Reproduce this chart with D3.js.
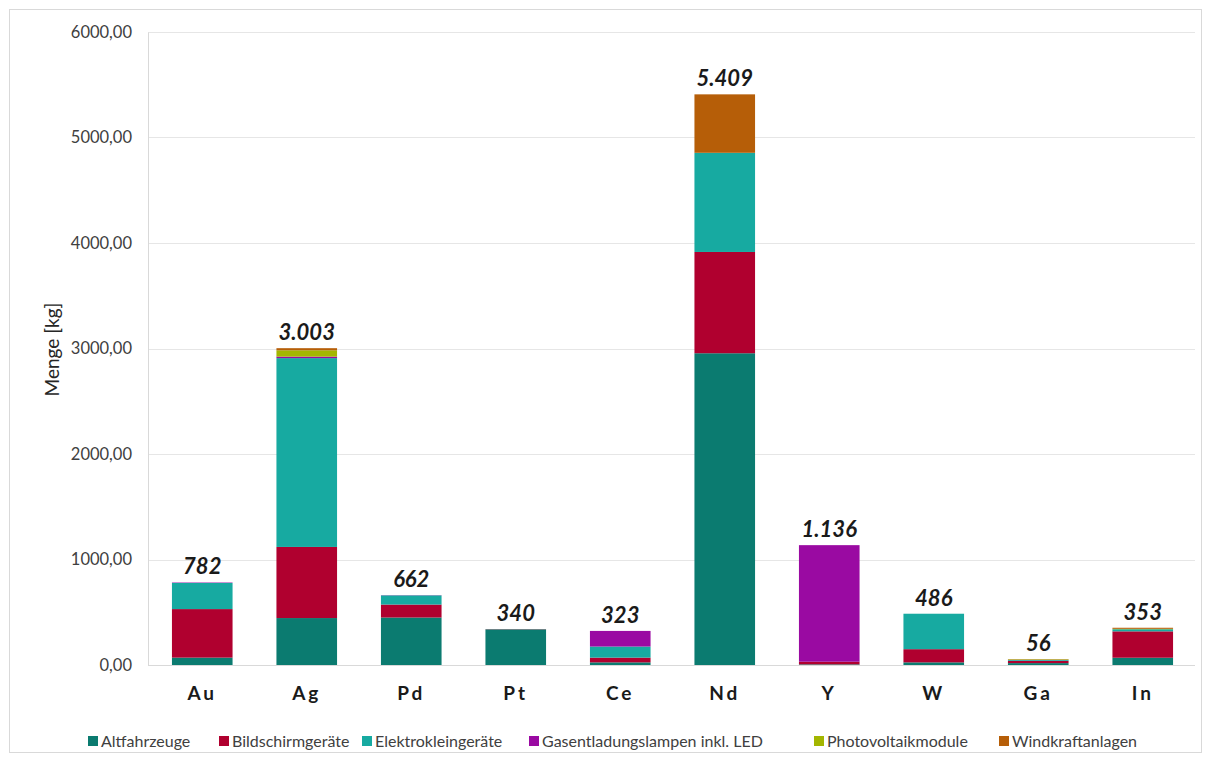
<!DOCTYPE html>
<html>
<head>
<meta charset="utf-8">
<script src="https://cdn.jsdelivr.net/npm/d3@7"></script>
<style>
  html, body { margin: 0; padding: 0; background: #fff; }
  svg { display: block; font-family: Lato, "Open Sans", sans-serif; }
</style>
</head>
<body>
<svg id="chart" width="1211" height="762"></svg>
<script>
// Recovered metals per source (kg)
const categories = ["Au", "Ag", "Pd", "Pt", "Ce", "Nd", "Y", "W", "Ga", "In"];
const seriesNames = ["Altfahrzeuge", "Bildschirmgeräte", "Elektrokleingeräte",
  "Gasentladungslampen inkl. LED", "Photovoltaikmodule", "Windkraftanlagen"];
const altfahrzeuge      = [70, 445, 450, 338, 25, 2955, 6, 25, 18, 69];
const bildschirmgeraete = [460, 674, 123, 2, 45, 960, 25, 125, 22, 250];
const elektrokleingeraete = [248, 1790, 87, 0, 105, 940, 0, 336, 8, 20];
const gasentladungslampen = [4, 14, 2, 0, 148, 0, 1105, 0, 0, 0];
const photovoltaikmodule  = [0, 60, 0, 0, 0, 0, 0, 0, 5, 4];
const windkraftanlagen    = [0, 20, 0, 0, 0, 554, 0, 0, 3, 10];
const totalLabels = ["782", "3.003", "662", "340", "323", "5.409", "1.136", "486", "56", "353"];
const yTicks = [0, 1000, 2000, 3000, 4000, 5000, 6000];
const colors = ["#0b7b70", "#b0002f", "#17aaa1", "#9a0aa2", "#a3b600", "#b65e08"];

const seriesValues = [altfahrzeuge, bildschirmgeraete, elektrokleingeraete,
  gasentladungslampen, photovoltaikmodule, windkraftanlagen];
const rows = categories.map((c, i) => {
  const r = { cat: c, label: totalLabels[i] };
  seriesNames.forEach((s, k) => r[s] = seriesValues[k][i]);
  return r;
});

const svg = d3.select("#chart");
const W = 1211, H = 762;
const m = { left: 148, right: 16, top: 32, bottom: 97 };

// outer frame
svg.append("rect").attr("x", 9.5).attr("y", 9.5).attr("width", W - 19).attr("height", H - 19)
  .attr("fill", "#fff").attr("stroke", "#d9d9d9");

const x = d3.scaleBand().domain(categories)
  .range([m.left + 2, W - m.right]).paddingInner(0.42).paddingOuter(0.21);
const y = d3.scaleLinear().domain([0, 6000]).range([H - m.bottom, m.top]);

// gridlines
svg.append("g").selectAll("line").data(yTicks.filter(t => t > 0)).join("line")
  .attr("x1", m.left).attr("x2", W - m.right)
  .attr("y1", d => Math.round(y(d)) + 0.5).attr("y2", d => Math.round(y(d)) + 0.5)
  .attr("stroke", "#e6e6e6");

// y axis
const yAxis = d3.axisLeft(y).tickValues(yTicks).tickSize(0).tickPadding(16)
  .tickFormat(d => d3.format(".2f")(d).replace(".", ","));
const gy = svg.append("g").attr("transform", `translate(${m.left},0)`).call(yAxis);
gy.select(".domain").attr("stroke", "#d9d9d9");
gy.selectAll("text").attr("font-size", 16.5).attr("fill", "#404040")
  .attr("font-family", "Lato, sans-serif");

svg.append("text")
  .attr("transform", `translate(59,${(m.top + H - m.bottom) / 2 + 1}) rotate(-90)`)
  .attr("text-anchor", "middle").attr("font-size", 19).attr("fill", "#262626")
  .text("Menge [kg]");

// stacked bars
const stacked = d3.stack().keys(seriesNames)(rows);
svg.append("g").selectAll("g").data(stacked).join("g")
  .attr("fill", (d, i) => colors[i])
  .selectAll("rect").data(d => d).join("rect")
  .attr("x", d => x(d.data.cat))
  .attr("width", x.bandwidth())
  .attr("y", d => y(d[1]))
  .attr("height", d => Math.max(0, y(d[0]) - y(d[1])));

// baseline
svg.append("line").attr("x1", m.left).attr("x2", W - m.right)
  .attr("y1", y(0) + 0.5).attr("y2", y(0) + 0.5).attr("stroke", "#d9d9d9");

// total labels
const totals = rows.map(r => d3.sum(seriesNames, s => r[s]));
svg.append("g").selectAll("text").data(rows).join("text")
  .attr("x", d => x(d.cat) + x.bandwidth() / 2)
  .attr("y", (d, i) => y(totals[i]) - 8)
  .attr("text-anchor", "middle").attr("font-size", 22)
  .attr("font-weight", "bold").attr("font-style", "italic").attr("fill", "#1a1a1a")
  .text(d => d.label);

// category labels
svg.append("g").selectAll("text").data(categories).join("text")
  .attr("x", d => x(d) + x.bandwidth() / 2)
  .attr("y", y(0) + 35)
  .attr("text-anchor", "middle").attr("font-size", 19).attr("font-weight", "bold")
  .attr("letter-spacing", "3px").attr("fill", "#1a1a1a")
  .text(d => d);

// legend
const legendX = [88, 219, 362, 529, 814, 999];
const lg = svg.append("g").selectAll("g").data(seriesNames).join("g")
  .attr("transform", (d, i) => `translate(${legendX[i]},741)`);
lg.append("rect").attr("x", 0).attr("y", -5).attr("width", 10).attr("height", 10)
  .attr("fill", (d, i) => colors[i]);
lg.append("text").attr("x", 13).attr("y", 6).attr("font-size", 16).attr("fill", "#404040")
  .text(d => d);
</script>
</body>
</html>
